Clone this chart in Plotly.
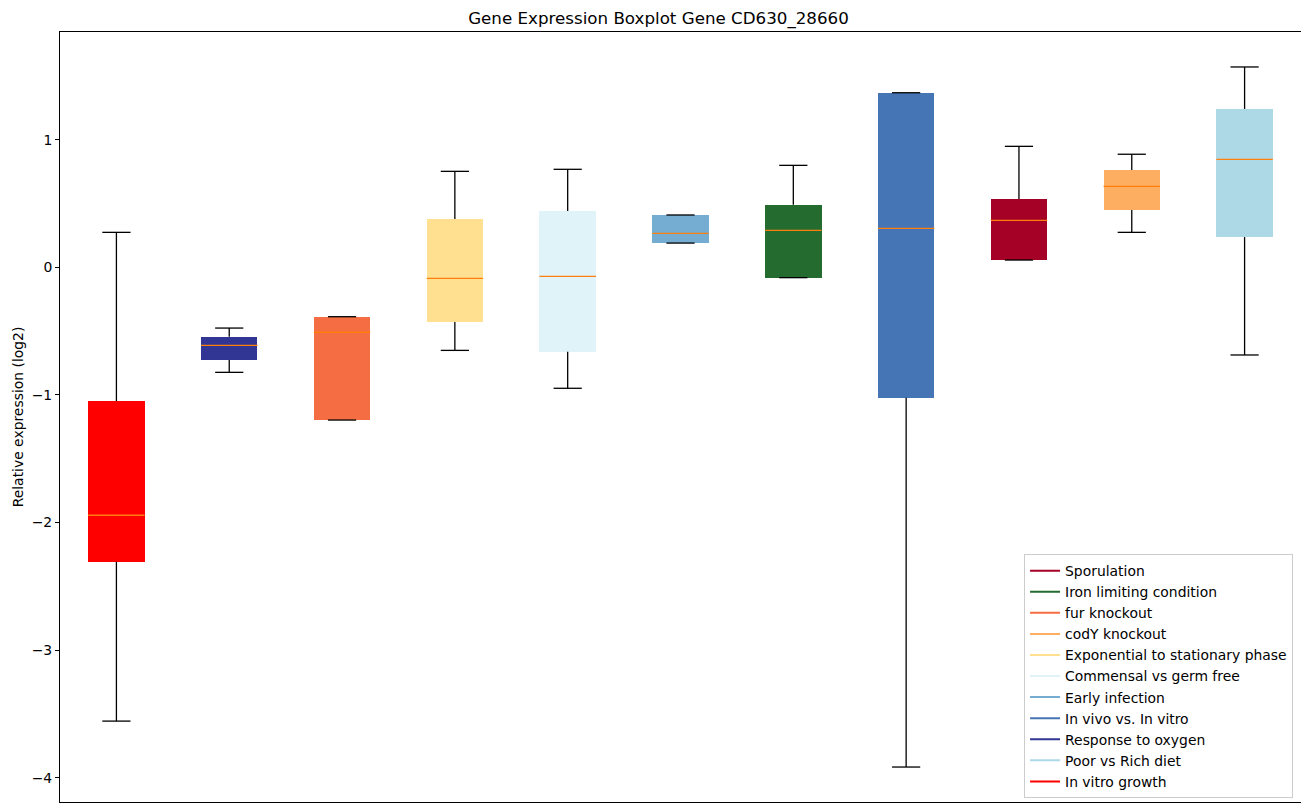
import plotly.graph_objects as go

# Boxplot statistics per condition
conditions = [
    "In vitro growth", "Response to oxygen", "fur knockout",
    "Exponential to stationary phase", "Commensal vs germ free",
    "Early infection", "Iron limiting condition", "In vivo vs. In vitro",
    "Sporulation", "codY knockout", "Poor vs Rich diet",
]
colors = [
    "#ff0000", "#313695", "#f46d43", "#fee090", "#e0f3f8", "#74add1",
    "#236b2f", "#4575b4", "#a50026", "#fdae61", "#add8e6",
]
lower_whisker = [-3.556, -0.823, -1.197, -0.651, -0.948, 0.190, -0.081, -3.916, 0.057, 0.274, -0.687]
q1 = [-2.307, -0.727, -1.197, -0.429, -0.661, 0.190, -0.081, -1.022, 0.057, 0.449, 0.237]
median = [-1.943, -0.611, -0.509, -0.086, -0.071, 0.266, 0.290, 0.305, 0.368, 0.635, 0.846]
q3 = [-1.049, -0.544, -0.387, 0.379, 0.441, 0.410, 0.491, 1.368, 0.535, 0.762, 1.241]
upper_whisker = [0.274, -0.476, -0.387, 0.752, 0.768, 0.410, 0.799, 1.368, 0.948, 0.886, 1.570]

# legend order as in the original
legend_order = [
    "Sporulation", "Iron limiting condition", "fur knockout", "codY knockout",
    "Exponential to stationary phase", "Commensal vs germ free", "Early infection",
    "In vivo vs. In vitro", "Response to oxygen", "Poor vs Rich diet", "In vitro growth",
]

positions = list(range(1, len(conditions) + 1))
box_w = 0.5
cap_w = 0.25

fig = go.Figure()

# whiskers and caps
wx, wy = [], []
for p, lo, a, b, hi in zip(positions, lower_whisker, q1, q3, upper_whisker):
    wx += [p, p, None, p, p, None, p - cap_w / 2, p + cap_w / 2, None, p - cap_w / 2, p + cap_w / 2, None]
    wy += [lo, a, None, b, hi, None, lo, lo, None, hi, hi, None]
fig.add_trace(go.Scatter(x=wx, y=wy, mode="lines", line=dict(color="black", width=1.3),
                         showlegend=False, hoverinfo="skip"))

# boxes
fig.add_trace(go.Bar(
    x=positions,
    base=q1,
    y=[b - a for a, b in zip(q1, q3)],
    width=box_w,
    marker=dict(color=colors, line=dict(width=0)),
    showlegend=False,
    hovertext=conditions,
))

# medians
mx, my = [], []
for p, m in zip(positions, median):
    mx += [p - box_w / 2, p + box_w / 2, None]
    my += [m, m, None]
fig.add_trace(go.Scatter(x=mx, y=my, mode="lines", line=dict(color="#ff7f0e", width=1.3),
                         showlegend=False, hoverinfo="skip"))

# legend handles
color_of = dict(zip(conditions, colors))
for name in legend_order:
    fig.add_trace(go.Scatter(x=[None], y=[None], mode="lines", name=name,
                             line=dict(color=color_of[name], width=2)))

# the page body adds an 8px margin, so the figure is sized to compensate
fig.update_layout(
    width=1301,
    height=804,
    margin=dict(l=52, r=8, t=24, b=10),
    plot_bgcolor="white",
    paper_bgcolor="white",
    font=dict(family="DejaVu Sans", size=13.9, color="black"),
    title=dict(text="Gene Expression Boxplot Gene CD630_28660", x=0.5, xanchor="center",
               y=0.988, yanchor="middle", font=dict(size=16.7)),
    barmode="overlay",
    bargap=0,
    legend=dict(x=0.9936, y=0.005, xanchor="right", yanchor="bottom",
                bgcolor="rgba(255,255,255,0.8)", bordercolor="#cccccc", borderwidth=1,
                tracegroupgap=0, font=dict(size=13.9)),
    showlegend=True,
)
fig.update_xaxes(range=[0.5, 11.5], showticklabels=False, ticks="", showgrid=False,
                 zeroline=False, showline=True, linecolor="black", linewidth=1, mirror=True)
fig.update_yaxes(range=[-4.190, 1.844], dtick=1, ticks="outside", ticklen=4, tickwidth=1,
                 tickcolor="black", showgrid=False, zeroline=False, showline=True,
                 linecolor="black", linewidth=1, mirror=True,
                 title=dict(text="Relative expression (log2)", standoff=4,
                            font=dict(size=13.9)))

fig.write_html("out.html")
